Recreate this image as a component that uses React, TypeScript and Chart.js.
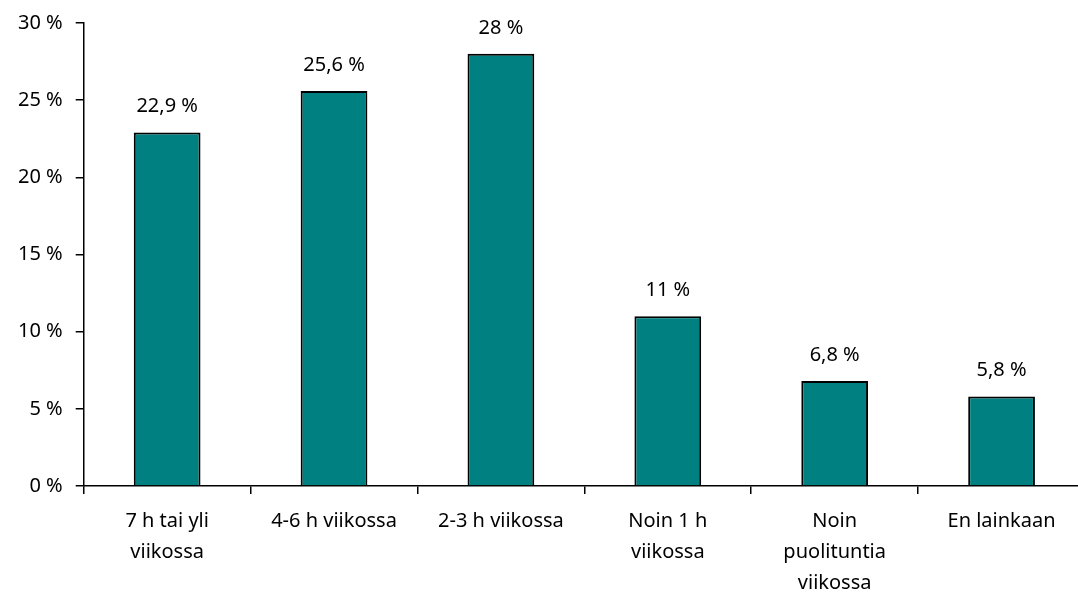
import React, { useEffect, useRef } from "react";
import { Chart, registerables } from "chart.js";

Chart.register(...registerables);

const categories: string[][] = [
  ["7 h tai yli", "viikossa"],
  ["4-6 h viikossa"],
  ["2-3 h viikossa"],
  ["Noin 1 h", "viikossa"],
  ["Noin", "puolituntia", "viikossa"],
  ["En lainkaan"],
];
const values: number[] = [22.9, 25.6, 28, 11, 6.8, 5.8];
const yTicks: number[] = [0, 5, 10, 15, 20, 25, 30];

const FONT = "'Noto Sans', sans-serif";

const labelPlugin = {
  id: "barLabels",
  afterDatasetsDraw(chart: any) {
    const ctx = chart.ctx;
    const meta = chart.getDatasetMeta(0);
    ctx.save();
    ctx.font = `20px ${FONT}`;
    ctx.fillStyle = "#000";
    ctx.textAlign = "center";
    ctx.textBaseline = "middle";
    meta.data.forEach((bar: any, i: number) => {
      const txt = String(values[i]).replace(".", ",") + " %";
      ctx.fillText(txt, bar.x, bar.y - 26);
    });
    ctx.restore();
  },
};

export default function App() {
  const ref = useRef<HTMLCanvasElement>(null);
  useEffect(() => {
    if (!ref.current) return;
    const chart = new Chart(ref.current, {
      type: "bar",
      data: {
        labels: categories,
        datasets: [
          {
            data: values,
            backgroundColor: "#008080",
            borderColor: "#000000",
            borderWidth: 2,
            barPercentage: 0.4,
            categoryPercentage: 1,
          },
        ],
      },
      options: {
        animation: false,
        responsive: true,
        maintainAspectRatio: false,
        layout: { padding: { top: 0, left: 5, right: 0, bottom: -15 } },
        plugins: { legend: { display: false }, tooltip: { enabled: false } },
        scales: {
          x: {
            grid: {
              display: true,
              drawOnChartArea: false,
              drawTicks: true,
              tickLength: 8,
              color: "#000",
              lineWidth: 1.5,
              offset: true,
            },
            border: { display: true, color: "#000", width: 1.5 },
            ticks: {
              color: "#000",
              font: { family: FONT, size: 20, lineHeight: 1.55 },
              maxRotation: 0,
              autoSkip: false,
              padding: 12,
            },
          },
          y: {
            min: 0,
            max: 30,
            afterBuildTicks(axis: any) {
              axis.ticks = yTicks.map((v) => ({ value: v }));
            },
            grid: {
              display: true,
              drawOnChartArea: false,
              drawTicks: true,
              tickLength: 8,
              color: "#000",
              lineWidth: 1.5,
            },
            border: { display: true, color: "#000", width: 1.5 },
            ticks: {
              color: "#000",
              font: { family: FONT, size: 20, lineHeight: 1.0 },
              padding: 13,
              callback: (v: any) => `${v} %`,
            },
          },
        },
      },
      plugins: [labelPlugin],
    });
    return () => chart.destroy();
  }, []);
  return (
    <div style={{ position: "fixed", left: 0, top: 0, width: 1078, height: 596, overflow: "hidden" }}>
      <div style={{ position: "absolute", left: 0, top: 0, width: 1085, height: 596 }}>
        <canvas ref={ref} />
      </div>
    </div>
  );
}
